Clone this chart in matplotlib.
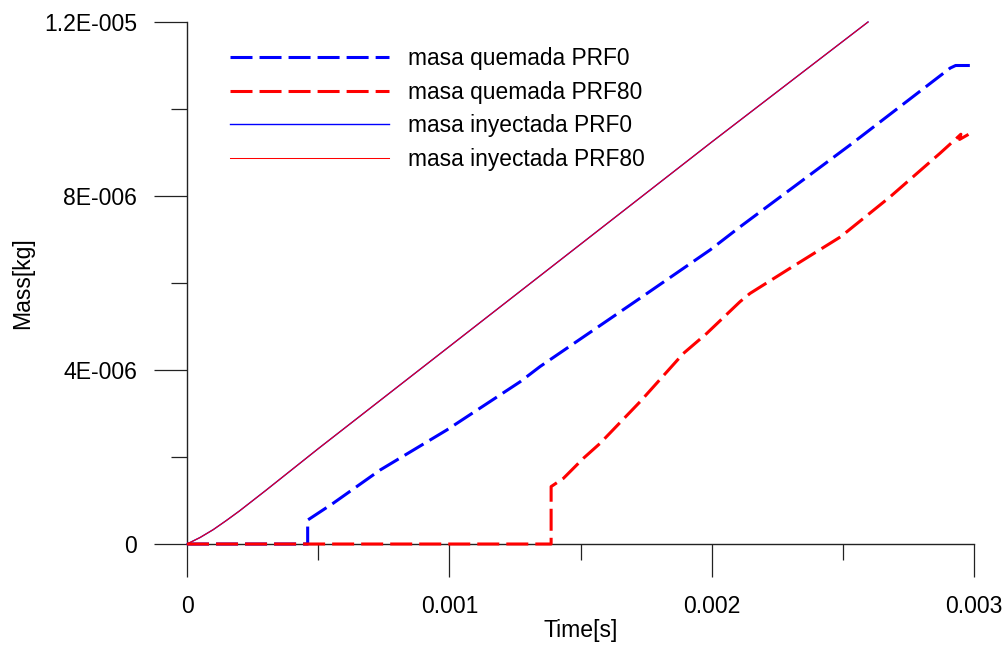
import numpy as np
import matplotlib
matplotlib.use('Agg')
import matplotlib.pyplot as plt
from matplotlib.ticker import FixedLocator, FixedFormatter, MultipleLocator

plt.rcParams['font.family'] = ['Liberation Sans', 'DejaVu Sans']

# --- data (time in s, mass in kg) ---
t_iny_prf0 = [0, 0.00005, 0.0001, 0.00015, 0.0002, 0.0003, 0.0005, 0.0008, 0.0012,
              0.0016, 0.002, 0.002596]
m_iny_prf0 = [0, 0.15e-6, 0.33e-6, 0.54e-6, 0.76e-6, 1.23e-6, 2.19e-6, 3.60e-6, 5.48e-6,
              7.36e-6, 9.24e-6, 12.0e-6]

t_iny_prf80 = [0, 0.00005, 0.0001, 0.00015, 0.0002, 0.0003, 0.0005, 0.0008, 0.0012,
               0.0016, 0.002, 0.002596]
m_iny_prf80 = [0, 0.15e-6, 0.33e-6, 0.54e-6, 0.76e-6, 1.23e-6, 2.19e-6, 3.60e-6, 5.48e-6,
               7.36e-6, 9.24e-6, 12.0e-6]

t_quem_prf0 = [0, 0.00046, 0.00046, 0.000558, 0.000736, 0.00099, 0.00127, 0.001346,
               0.001727, 0.001994, 0.002108, 0.002527, 0.002909, 0.00293, 0.002985]
m_quem_prf0 = [0, 0, 0.55e-6, 0.94e-6, 1.70e-6, 2.62e-6, 3.73e-6, 4.08e-6,
               5.65e-6, 6.76e-6, 7.29e-6, 9.17e-6, 10.94e-6, 11.0e-6, 11.0e-6]

t_quem_prf80 = [0, 0.001388, 0.001388, 0.001435, 0.001511, 0.001574, 0.001727, 0.001892,
                0.001981, 0.002108, 0.002146, 0.002299, 0.002491, 0.00268, 0.00287,
                0.002934, 0.00295, 0.002945, 0.00298]
m_quem_prf80 = [0, 0, 1.32e-6, 1.51e-6, 1.97e-6, 2.31e-6, 3.27e-6, 4.38e-6,
                4.84e-6, 5.57e-6, 5.76e-6, 6.34e-6, 7.06e-6, 7.98e-6, 8.98e-6,
                9.33e-6, 9.42e-6, 9.30e-6, 9.42e-6]

xticks = [0, 0.001, 0.002, 0.003]
xtick_labels = ['0', '0.001', '0.002', '0.003']
yticks = [0, 4e-6, 8e-6, 1.2e-5]
ytick_labels = ['0', '4E-006', '8E-006', '1.2E-005']

# --- figure ---
fig = plt.figure(figsize=(10.08, 6.45), dpi=100)
ax = fig.add_axes([187 / 1008, 101 / 645, 787 / 1008, 522 / 645])

dash = (0, (7.2, 2.3))
ax.plot(t_quem_prf0, m_quem_prf0, color='blue', lw=2.2, linestyle=dash,
        label='masa quemada PRF0', clip_on=False, zorder=3)
ax.plot(t_quem_prf80, m_quem_prf80, color='red', lw=2.2, linestyle=dash,
        label='masa quemada PRF80', clip_on=False, zorder=4)
ax.plot(t_iny_prf0, m_iny_prf0, color='blue', lw=1.0,
        label='masa inyectada PRF0', clip_on=False, zorder=3)
ax.plot(t_iny_prf80, m_iny_prf80, color='red', lw=0.75,
        label='masa inyectada PRF80', clip_on=False, zorder=3)

ax.set_xlim(0, 0.003)
ax.set_ylim(0, 1.2e-5)

ax.xaxis.set_major_locator(FixedLocator(xticks))
ax.xaxis.set_major_formatter(FixedFormatter(xtick_labels))
ax.xaxis.set_minor_locator(MultipleLocator(0.0005))
ax.yaxis.set_major_locator(FixedLocator(yticks))
ax.yaxis.set_major_formatter(FixedFormatter(ytick_labels))
ax.yaxis.set_minor_locator(MultipleLocator(2e-6))

for s in ['top', 'right']:
    ax.spines[s].set_visible(False)
for s in ['left', 'bottom']:
    ax.spines[s].set_linewidth(1.0)
    ax.spines[s].set_color('#222222')

ax.tick_params(which='major', direction='out', length=23.8, width=0.9,
               color='#222222', labelsize=16.6)
ax.tick_params(which='minor', direction='out', length=11.5, width=0.9,
               color='#222222')
ax.tick_params(axis='y', which='major', pad=12)
ax.tick_params(axis='x', which='major', pad=13)

ax.set_xlabel('Time[s]', fontsize=16.6, labelpad=1)
ax.set_ylabel('Mass[kg]', fontsize=16.6, labelpad=7)

ax.legend(loc='upper left', bbox_to_anchor=(0.0546, 0.952), frameon=False,
          fontsize=16.4, handlelength=7.0, handletextpad=0.8, labelspacing=0.47,
          borderpad=0, borderaxespad=0)

fig.savefig('out.png', dpi=100)
